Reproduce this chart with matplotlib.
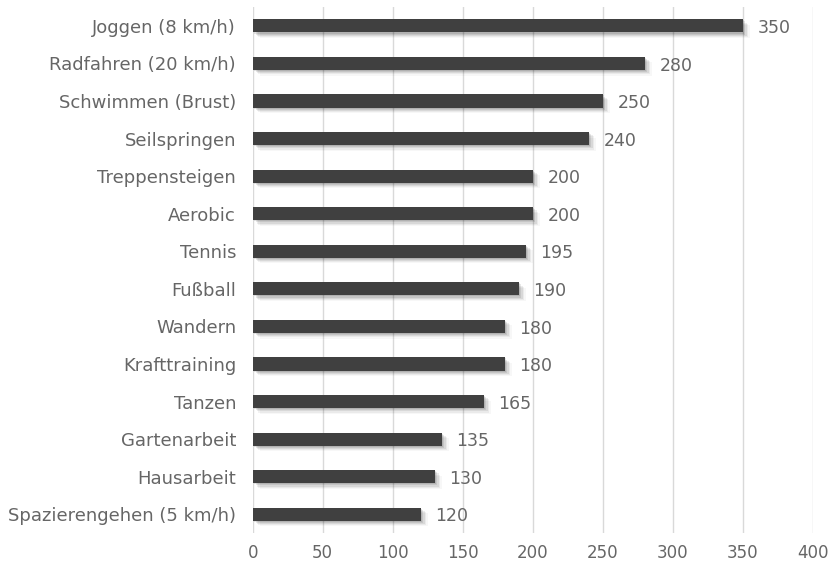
import matplotlib
matplotlib.use("Agg")
import matplotlib.pyplot as plt
import numpy as np

categories = ["Joggen (8 km/h)", "Radfahren (20 km/h)", "Schwimmen (Brust)", "Seilspringen",
              "Treppensteigen", "Aerobic", "Tennis", "Fußball", "Wandern", "Krafttraining",
              "Tanzen", "Gartenarbeit", "Hausarbeit", "Spazierengehen (5 km/h)"]
values = [350, 280, 250, 240, 200, 200, 195, 190, 180, 180, 165, 135, 130, 120]
xticks = [0, 50, 100, 150, 200, 250, 300, 350, 400]

plt.rcParams['font.family'] = ['DejaVu Sans']
fig = plt.figure(figsize=(8.3, 5.66), dpi=100)
ax = fig.add_axes([0.3045, 0.0583, 0.979 - 0.3045, 0.9876 - 0.0583])

n = len(categories)
y = np.arange(n)
h = 0.35
# soft shadow
for dx, dy, a in [(1.0, 0.03, 0.10), (2.0, 0.06, 0.09), (3.0, 0.09, 0.07), (4.0, 0.12, 0.05), (5.0, 0.15, 0.03)]:
    ax.barh(y + dy, values, height=h, left=dx, color='black', alpha=a, zorder=2, linewidth=0)
ax.barh(y, values, height=h, color='#404040', zorder=3, linewidth=0)

fs = 13
tc = '#666666'
for yi, v in zip(y, values):
    ax.text(v + 10.5, yi + 0.06, str(v), va='center', ha='left', fontsize=12.5, color=tc, zorder=4)

ax.set_xlim(0, 400)
ax.set_ylim(n - 0.5, -0.5)
ax.set_yticks(y)
ax.set_yticklabels(categories, fontsize=fs, color=tc)
ax.set_xticks(xticks)
ax.set_xticklabels([str(t) for t in xticks], fontsize=12, color=tc)
ax.tick_params(axis='x', length=0, pad=8)
ax.tick_params(axis='y', length=0, pad=12)
ax.xaxis.grid(True, color='#d9d9d9', linewidth=1, zorder=0)
ax.set_axisbelow(True)
for s in ax.spines.values():
    s.set_visible(False)

fig.savefig("out.png", dpi=100)
